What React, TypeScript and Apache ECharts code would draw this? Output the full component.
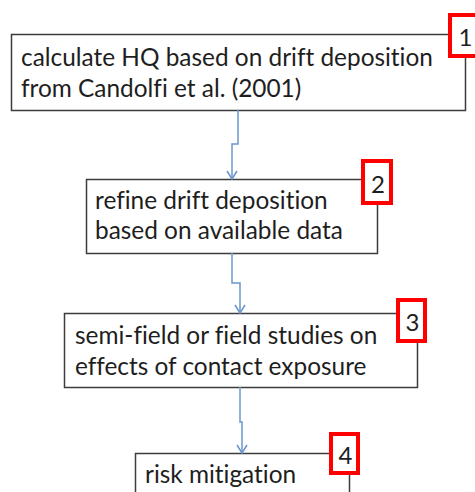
import React, { useEffect, useRef } from "react";
import * as echarts from "echarts";

// ---- content ----
const stepLines: string[][] = [
  ["calculate HQ based on drift deposition", "from Candolfi et al. (2001)"],
  ["refine drift deposition", "based on available data"],
  ["semi-field or field studies on", "effects of contact exposure"],
  ["risk mitigation"],
];
const badgeLabels: string[] = ["1", "2", "3", "4"];

// ---- layout ----
const boxRects = [
  [11, 34, 454, 76],
  [86, 179, 291, 74],
  [64, 313, 353, 74],
  [135, 453, 214, 60],
];
const textOrigins = [
  [21, 56.5, 30.5],
  [95, 199, 30],
  [75, 334, 31],
  [145, 473, 31],
];
const badgeRects = [
  [448, 13, 33, 45],
  [361, 159, 32, 46],
  [396, 298, 31, 45],
  [329, 432, 31, 43],
];
const connectors = [
  [[238, 110], [238, 144], [232, 144], [232, 179]],
  [[232, 253], [232, 283], [240, 283], [240, 313]],
  [[240, 387], [240, 422], [242, 422], [242, 453]],
];

const FONT = "Lato, 'Open Sans', sans-serif";
const TEXT_COLOR = "#1e1e1e";
const BORDER = "#3c3c3c";
const LINK = "#6b96cc";
const RED = "#ff0000";

export default function App() {
  const ref = useRef<HTMLDivElement>(null);
  useEffect(() => {
    if (!ref.current) return;
    const chart = echarts.init(ref.current, null, { renderer: "svg" });
    const els: any[] = [];

    boxRects.forEach((r, i) => {
      els.push({
        type: "rect",
        shape: { x: r[0] + 0.5, y: r[1] + 0.5, width: r[2], height: r[3] },
        style: { fill: "#ffffff", stroke: BORDER, lineWidth: 1.5 },
        z: 1,
      });
      const [tx, ty, lh] = textOrigins[i];
      stepLines[i].forEach((line, j) => {
        els.push({
          type: "text",
          x: tx,
          y: ty + j * lh,
          style: {
            text: line,
            fill: TEXT_COLOR,
            fontFamily: FONT,
            fontSize: 24.4,
            align: "left",
            verticalAlign: "middle",
            textAlign: "left",
            textVerticalAlign: "middle",
          },
          z: 3,
        });
      });
    });

    connectors.forEach((pts) => {
      els.push({
        type: "polyline",
        shape: { points: pts },
        style: { stroke: LINK, lineWidth: 1.5, fill: "none" },
        z: 2,
      });
      const tip = pts[pts.length - 1];
      els.push({
        type: "polyline",
        shape: {
          points: [
            [tip[0] - 5, tip[1] - 8],
            [tip[0], tip[1]],
            [tip[0] + 5, tip[1] - 8],
          ],
        },
        style: { stroke: LINK, lineWidth: 1.5, fill: "none" },
        z: 2,
      });
    });

    badgeRects.forEach((b, i) => {
      els.push({
        type: "rect",
        shape: { x: b[0] + 2, y: b[1] + 2, width: b[2] - 4, height: b[3] - 4 },
        style: { fill: "#ffffff", stroke: RED, lineWidth: 4 },
        z: 4,
      });
      els.push({
        type: "text",
        x: b[0] + b[2] / 2 + 1,
        y: b[1] + b[3] / 2 + 1,
        style: {
          text: badgeLabels[i],
          fill: TEXT_COLOR,
          fontFamily: FONT,
          fontSize: 24,
          align: "center",
          verticalAlign: "middle",
          textAlign: "center",
          textVerticalAlign: "middle",
        },
        z: 5,
      });
    });

    chart.setOption({ animation: false, graphic: { elements: els } });
    return () => chart.dispose();
  }, []);
  return (
    <div
      ref={ref}
      style={{
        position: "absolute",
        left: 0,
        top: 0,
        width: 475,
        height: 492,
        background: "#ffffff",
        fontVariantLigatures: "none",
      }}
    />
  );
}
